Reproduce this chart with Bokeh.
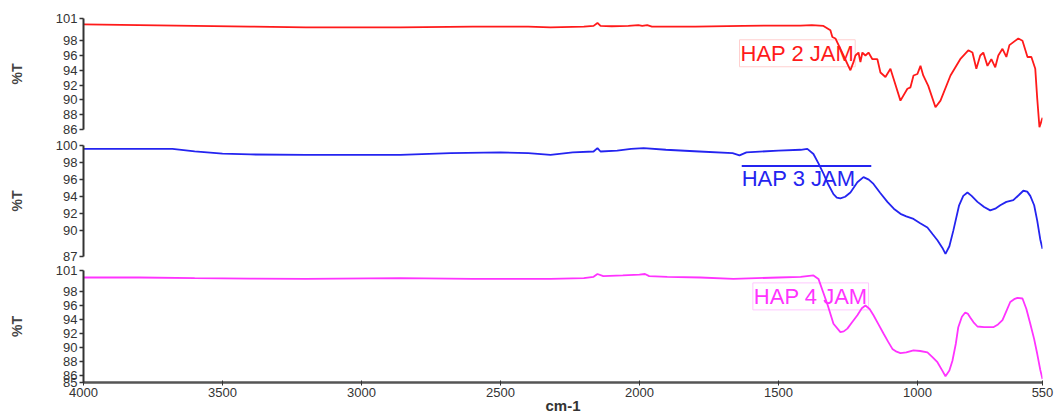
from bokeh.plotting import figure
from bokeh.models import Range1d, FixedTicker, Label
from bokeh.layouts import column
from bokeh.embed import file_html
from bokeh.resources import INLINE

# ---------------- data ----------------
x_ticks = [4000, 3500, 3000, 2500, 2000, 1500, 1000, 550]
x_label = "cm-1"
y_label = "%T"

hap2_wn = [4000, 3800, 3600, 3400, 3200, 3000, 2860, 2600, 2400, 2320, 2200, 2165, 2151, 2140,
           2100, 2040, 2004, 1990, 1972, 1955, 1800, 1626, 1500, 1421, 1380, 1338, 1313, 1306,
           1295, 1266, 1241, 1230, 1223, 1212, 1205, 1198, 1187, 1176, 1162, 1144, 1133, 1115,
           1097, 1086, 1061, 1036, 1025, 1014, 1000, 989, 979, 961, 935, 917, 881, 846, 817,
           802, 788, 774, 763, 748, 734, 720, 709, 694, 680, 669, 637, 622, 604, 590, 576,
           569, 561, 555, 550]
hap2_t = [100.2, 100.1, 100.0, 99.9, 99.8, 99.8, 99.8, 99.9, 99.9, 99.8, 99.9, 100.0, 100.4, 100.0,
          99.95, 100.0, 100.1, 100.0, 100.1, 99.9, 99.9, 100.0, 100.05, 100.05, 100.1, 100.0, 99.4, 98.5,
          98.3, 96.0, 94.0, 95.1, 96.0, 96.4, 95.1, 96.4, 96.0, 96.4, 95.5, 95.5, 93.7, 93.1,
          94.2, 92.9, 89.9, 91.5, 91.7, 93.3, 93.5, 94.6, 93.3, 91.9, 89.0, 89.9, 93.3, 95.5, 96.7,
          96.4, 94.2, 96.0, 96.4, 94.6, 95.5, 94.4, 96.0, 96.9, 95.8, 97.4, 98.3, 98.0, 95.8, 95.8, 94.2,
          90.2, 86.3, 87.0, 87.6]

hap3_wn = [4000, 3800, 3680, 3600, 3500, 3400, 3200, 3000, 2860, 2680, 2500, 2400, 2320, 2240,
           2165, 2151, 2140, 2080, 2030, 1985, 1905, 1785, 1665, 1640, 1615, 1500, 1420, 1396,
           1374, 1356, 1338, 1320, 1302, 1290, 1277, 1260, 1241, 1216, 1194, 1175, 1158, 1135,
           1108, 1085, 1061, 1040, 1014, 990, 964, 945, 928, 910, 899, 885, 871, 850, 835, 820,
           805, 784, 760, 738, 720, 702, 680, 655, 635, 619, 605, 594, 580, 569, 558, 550]
hap3_t = [99.6, 99.6, 99.6, 99.3, 99.05, 98.95, 98.9, 98.9, 98.9, 99.1, 99.2, 99.1, 98.9, 99.2,
          99.3, 99.7, 99.3, 99.4, 99.6, 99.7, 99.5, 99.3, 99.1, 98.85, 99.2, 99.4, 99.5, 99.6,
          99.0, 97.9, 96.7, 95.4, 94.3, 93.9, 93.8, 94.0, 94.5, 95.7, 96.3, 96.0, 95.5, 94.5,
          93.4, 92.6, 92.0, 91.7, 91.4, 90.9, 90.4, 89.6, 88.9, 88.0, 87.3, 88.2, 90.0, 93.0, 94.1, 94.5,
          94.1, 93.4, 92.8, 92.4, 92.6, 93.0, 93.4, 93.6, 94.2, 94.7, 94.6, 94.1, 93.0, 91.2, 89.0, 87.9]

hap4_wn = [4000, 3800, 3600, 3400, 3200, 2860, 2600, 2320, 2200, 2165, 2151, 2130, 2060, 2000,
           1980, 1965, 1900, 1781, 1662, 1500, 1420, 1374, 1356, 1340, 1324, 1302, 1277, 1265,
           1252, 1235, 1216, 1200, 1187, 1172, 1158, 1140, 1122, 1105, 1090, 1075, 1061, 1040,
           1014, 990, 964, 945, 928, 912, 899, 885, 874, 862, 853, 840, 828, 818, 810, 798, 784,
           760, 727, 710, 694, 680, 666, 652, 640, 622, 608, 594, 580, 569, 558, 550]
hap4_t = [100.0, 100.0, 99.9, 99.85, 99.8, 99.9, 99.8, 99.8, 99.9, 100.1, 100.5, 100.2, 100.3, 100.4,
          100.5, 100.2, 100.1, 100.0, 99.8, 100.0, 100.1, 100.3, 99.8, 98.0, 96.2, 93.4, 92.2, 92.3,
          92.7, 93.6, 94.6, 95.6, 96.0, 95.5, 94.6, 93.3, 92.0, 90.8, 89.8, 89.4, 89.2, 89.3,
          89.6, 89.5, 89.3, 88.6, 87.9, 86.8, 85.9, 86.7, 88.1, 90.5, 92.9, 94.4, 95.0, 94.8, 94.3, 93.6, 93.0,
          92.9, 92.9, 93.3, 93.9, 95.2, 96.5, 96.9, 97.1, 97.0, 95.5, 93.4, 91.2, 89.1, 86.8, 85.5]

panels = [
    dict(name="HAP 2 JAM", wn=hap2_wn, t=hap2_t, color="#ff1a1a", yr=(86, 101),
         yticks=[86, 88, 90, 92, 94, 96, 98, 101]),
    dict(name="HAP 3 JAM", wn=hap3_wn, t=hap3_t, color="#2424f0", yr=(87, 100),
         yticks=[87, 90, 92, 94, 96, 98, 100]),
    dict(name="HAP 4 JAM", wn=hap4_wn, t=hap4_t, color="#ff33ff", yr=(85, 101),
         yticks=[85, 86, 88, 90, 92, 94, 96, 98, 101]),
]

# ---------------- layout / style ----------------
FONT = "Liberation Sans"
AX = "#333333"
xr = Range1d(4000, 550)

sizes = [  # height, border top, border bottom
    (137, 18, 8),
    (126, 8, 7),
    (155, 7, 36),
]
label_pos = [(1640, 96.3), (1632, 96.1), (1592, 97.3)]
label_border = ["#ffd0d0", None, "#ffc8ff"]

figs = []
for i, (pan, (h, bt, bb)) in enumerate(zip(panels, sizes)):
    last = i == len(panels) - 1
    p = figure(width=1054, height=h, x_range=xr, y_range=Range1d(*pan["yr"]),
               output_backend="svg", toolbar_location=None,
               x_axis_location="below" if last else None,
               min_border_left=83, min_border_right=12,
               min_border_top=bt, min_border_bottom=bb)
    p.outline_line_color = None
    p.grid.visible = False
    p.background_fill_color = "white"
    p.border_fill_color = "white"

    ya = p.yaxis[0]
    ya.ticker = FixedTicker(ticks=pan["yticks"])
    ya.axis_line_width = 2
    ya.axis_line_color = AX
    ya.major_tick_line_color = AX
    ya.major_tick_line_width = 1.5
    ya.major_tick_out = 4
    ya.major_tick_in = 0
    ya.minor_tick_out = 0
    ya.minor_tick_in = 0
    ya.major_label_standoff = 2
    ya.major_label_text_font = FONT
    ya.major_label_text_font_size = "13px"
    ya.major_label_text_color = AX
    ya.axis_label = y_label
    ya.axis_label_text_font = FONT
    ya.axis_label_text_font_size = "14px"
    ya.axis_label_text_font_style = "bold"
    ya.axis_label_text_color = "#444444"
    ya.axis_label_standoff = 28

    if last:
        xa = p.xaxis[0]
        xa.ticker = FixedTicker(ticks=x_ticks)
        xa.axis_line_width = 2.5
        xa.axis_line_color = "#555555"
        xa.major_tick_line_color = AX
        xa.major_tick_out = 3
        xa.major_tick_in = 2
        xa.minor_tick_out = 0
        xa.minor_tick_in = 0
        xa.major_label_standoff = 2
        xa.major_label_text_font = FONT
        xa.major_label_text_font_size = "13px"
        xa.major_label_text_color = AX
        xa.axis_label = x_label
        xa.axis_label_text_font = FONT
        xa.axis_label_text_font_size = "15px"
        xa.axis_label_text_font_style = "bold"
        xa.axis_label_text_color = "#333333"
        xa.axis_label_standoff = -3

    lx, ly = label_pos[i]
    lab = Label(x=lx, y=ly, text=pan["name"], text_align="left", text_baseline="middle",
                text_font=FONT, text_font_size="22px", text_color=pan["color"],
                level="underlay")
    if label_border[i]:
        lab.border_line_color = label_border[i]
        lab.border_line_width = 1
        lab.background_fill_color = "white"
        lab.padding = 1
    p.add_layout(lab)
    if i == 1:
        p.segment(x0=[1632], y0=[97.6], x1=[1166], y1=[97.6], line_color=pan["color"], line_width=2)

    p.line(pan["wn"], pan["t"], line_color=pan["color"], line_width=1.8)

    figs.append(p)

layout = column(*figs, spacing=0)
open("out.html", "w").write(file_html(layout, INLINE))
